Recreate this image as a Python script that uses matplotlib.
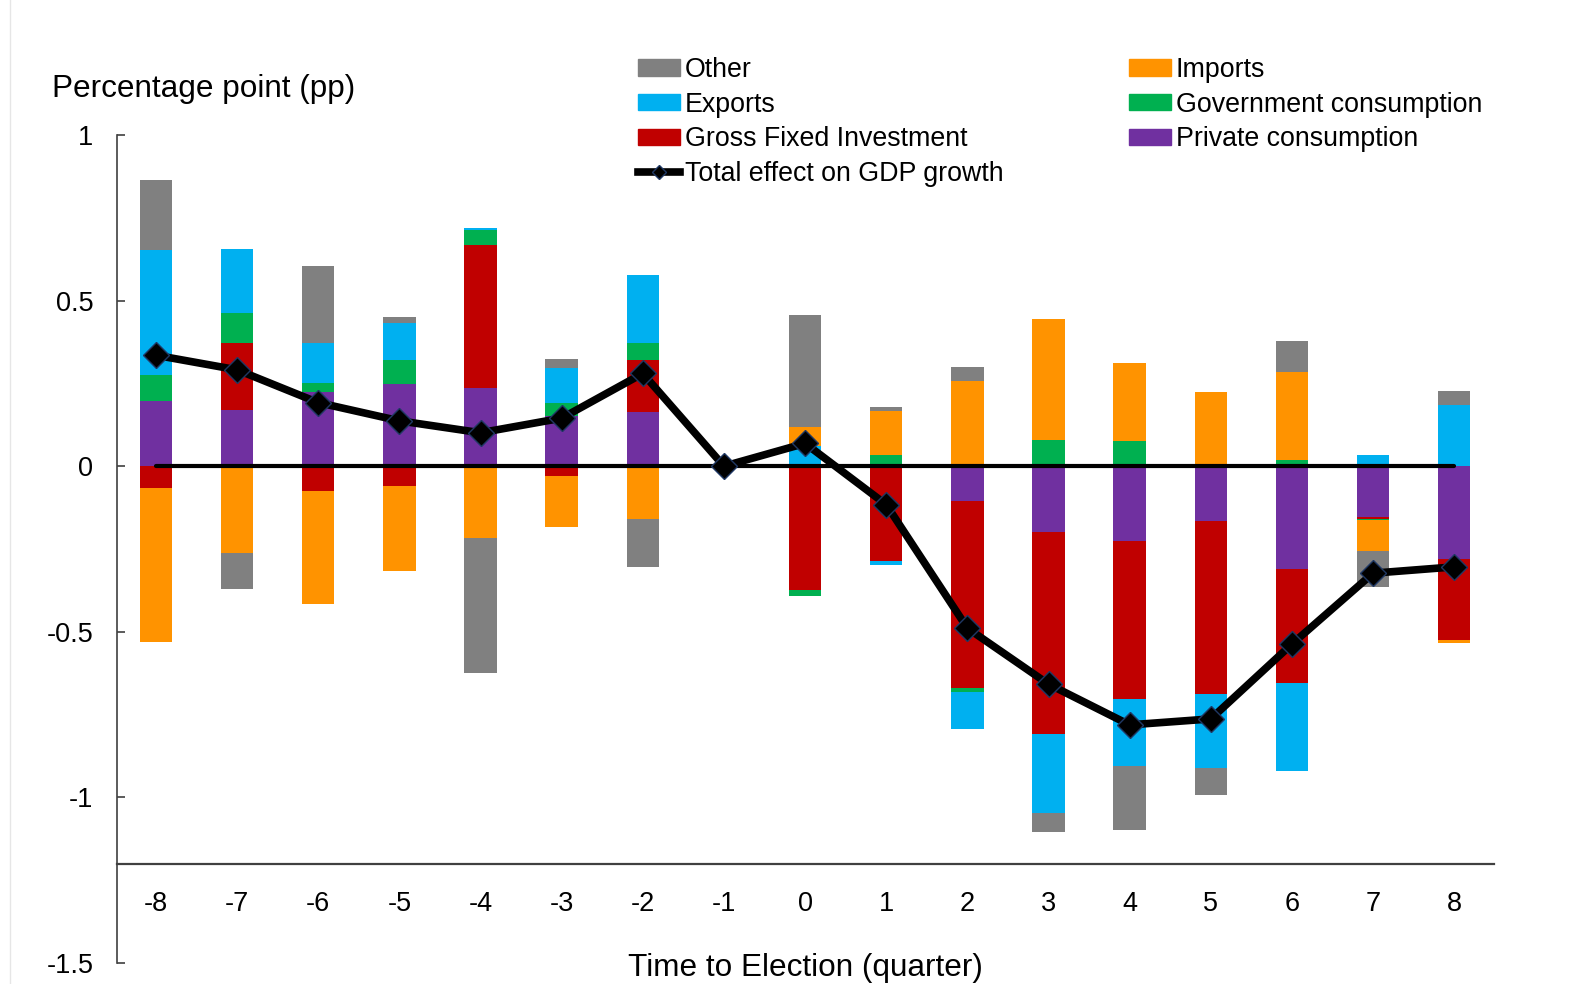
import numpy as np
import matplotlib.pyplot as plt
from matplotlib.lines import Line2D
from matplotlib.patches import Patch

plt.rcParams['font.family'] = ['Liberation Sans', 'DejaVu Sans']

# ── Data ─────────────────────────────────────────────────────────────────────
quarters = list(range(-8, 9))

private = [0.198, 0.169, 0.225, 0.247, 0.235, 0.152, 0.164, 0, 0, 0,
           -0.104, -0.199, -0.225, -0.164, -0.311, -0.152, -0.281]
gfi     = [-0.067, 0.202, -0.076, -0.060, 0.434, -0.031, 0.157, 0, -0.373, -0.287,
           -0.567, -0.611, -0.478, -0.524, -0.344, -0.006, -0.245]
gov     = [0.077, 0.092, 0.027, 0.074, 0.043, 0.038, 0.052, 0, -0.018, 0.035,
           -0.010, 0.078, 0.076, 0, 0.020, -0.004, 0]
exports = [0.377, 0.193, 0.120, 0.111, 0.008, 0.105, 0.204, 0, 0.060, -0.012,
           -0.111, -0.238, -0.203, -0.224, -0.264, 0.035, 0.185]
imports = [-0.464, -0.262, -0.341, -0.255, -0.217, -0.154, -0.160, 0, 0.059, 0.131,
           0.256, 0.365, 0.237, 0.224, 0.264, -0.094, -0.008]
other   = [0.211, -0.109, 0.231, 0.017, -0.408, 0.030, -0.144, 0, 0.339, 0.013,
           0.043, -0.057, -0.192, -0.080, 0.093, -0.109, 0.042]
total   = [0.335, 0.291, 0.192, 0.137, 0.101, 0.145, 0.280, 0, 0.069, -0.116,
           -0.489, -0.658, -0.781, -0.763, -0.537, -0.323, -0.304]

series = [
    ("Private consumption",    private, "#7030A0"),
    ("Gross Fixed Investment", gfi,     "#C00000"),
    ("Government consumption", gov,     "#00B050"),
    ("Exports",                exports, "#00B0F0"),
    ("Imports",                imports, "#FF9300"),
    ("Other",                  other,   "#808080"),
]

# ── Figure ───────────────────────────────────────────────────────────────────
W, H = 1572, 984
fig = plt.figure(figsize=(W / 100, H / 100), dpi=100)
ax = fig.add_axes([117 / W, 1 - 963 / H, 1377 / W, (963 - 135) / H])

x = np.array(quarters, dtype=float)
pos_base = np.zeros(len(x))
neg_base = np.zeros(len(x))
for name, vals, col in series:
    v = np.array(vals, dtype=float)
    bottom = np.where(v >= 0, pos_base, neg_base)
    ax.bar(x, v, width=0.4, bottom=bottom, color=col, zorder=2)
    pos_base += np.where(v >= 0, v, 0)
    neg_base += np.where(v < 0, v, 0)

# zero line across the quarters
ax.plot([quarters[0], quarters[-1]], [0, 0], color="black", lw=3,
        solid_capstyle="round", zorder=3)
# total effect
ax.plot(x, total, color="black", lw=5.5, marker="D", markersize=13,
        markerfacecolor="black", markeredgecolor="#1F3864", markeredgewidth=1,
        zorder=4)

ax.set_xlim(-8.48, 8.49)
ax.set_ylim(-1.5, 1)
ax.set_yticks([1, 0.5, 0, -0.5, -1, -1.5])
ax.set_yticklabels(["1", "0.5", "0", "-0.5", "-1", "-1.5"])
ax.set_xticks(quarters)
ax.set_xticklabels([str(q) for q in quarters])

for s in ["top", "right"]:
    ax.spines[s].set_visible(False)
ax.spines["bottom"].set_position(("data", -1.2))
ax.spines["bottom"].set_color("#404040")
ax.spines["bottom"].set_linewidth(1.6)
ax.spines["left"].set_color("#404040")
ax.spines["left"].set_linewidth(1.2)

ax.tick_params(axis="y", direction="in", length=6, width=1.2, color="#404040",
               labelsize=19.5, pad=17)
ax.tick_params(axis="x", length=0, labelsize=19.5, pad=20)

fig.text(52 / W, 1 - 89 / H, "Percentage point (pp)", fontsize=22.7,
         ha="left", va="center")
fig.text(805 / W, 1 - 968 / H, "Time to Election (quarter)", fontsize=22.7,
         ha="center", va="center")

# faint chart-area border on the left
fig.add_artist(Line2D([10 / W, 10 / W], [0, 1], transform=fig.transFigure,
                      color="#e6e6e6", lw=1))

# ── Legend ───────────────────────────────────────────────────────────────────
colors = {name: col for name, _, col in series}
handles = [
    Patch(color=colors["Other"]),
    Patch(color=colors["Exports"]),
    Patch(color=colors["Gross Fixed Investment"]),
    Line2D([], [], color="black", lw=5.5, marker="D", markersize=7,
           markerfacecolor="black", markeredgecolor="#1F3864"),
    Patch(color=colors["Imports"]),
    Patch(color=colors["Government consumption"]),
    Patch(color=colors["Private consumption"]),
]
labels = ["Other", "Exports", "Gross Fixed Investment", "Total effect on GDP growth",
          "Imports", "Government consumption", "Private consumption"]
fig.legend(handles, labels, ncol=2, loc="upper left",
           bbox_to_anchor=(638 / W, 1 - 57 / H), frameon=False,
           fontsize=19.3, borderpad=0, borderaxespad=0,
           handlelength=1.55, handleheight=0.55, handletextpad=0.2,
           labelspacing=0.32, columnspacing=4.68)

fig.savefig("out.png", dpi=100)
